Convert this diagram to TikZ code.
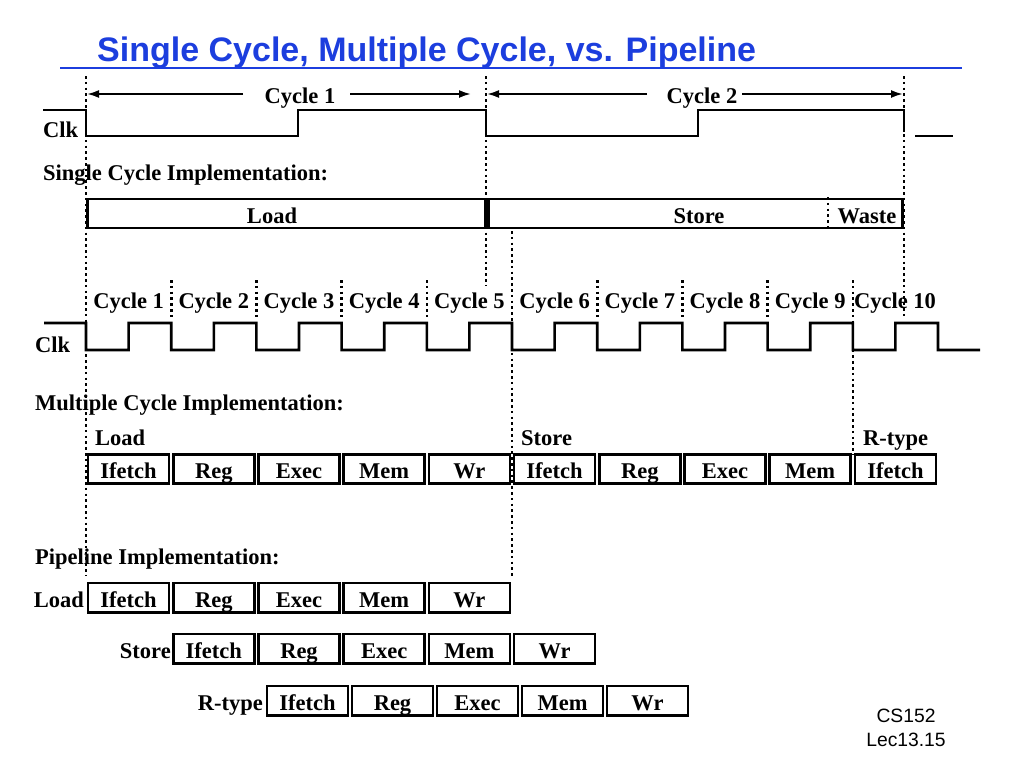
\documentclass[tikz,border=0pt]{standalone}
\usepackage{fontspec}
\setmainfont{Liberation Serif}
\newfontfamily\arialfont{Liberation Sans}
\usetikzlibrary{arrows.meta}
\definecolor{titleblue}{RGB}{28,62,222}
\begin{document}
\begin{tikzpicture}[x=1pt,y=-1pt,
  lbl/.style={font=\fontsize{22.5}{24}\selectfont\bfseries, inner sep=0pt},
  sig/.style={line width=2.6pt, line join=miter, line cap=butt},
  vdot/.style={line width=2.6pt, dash pattern=on 2.6pt off 3.2pt},
  stage/.style={draw, line width=2.6pt, minimum width=81pt, minimum height=29.4pt,
    inner sep=0pt, text height=19pt, text depth=0pt,
    font=\fontsize{22.5}{24}\selectfont\bfseries},
  bigbox/.style={draw, line width=2.6pt, inner sep=0pt},
  span/.style={line width=2pt, -{Latex[length=12pt,width=8pt]}},
]
\useasboundingbox (0,0) rectangle (1024,768);
\fill[white] (0,0) rectangle (1024,768);

% Title
\node[anchor=base west, inner sep=0pt, text=titleblue,
  font=\arialfont\fontsize{34}{36}\selectfont\bfseries] (title) at (97,62)
  {Single Cycle, Multiple Cycle, vs. Pipeline};
\coordinate (ulA) at (60,68);
\coordinate (ulB) at (962,68);
\draw[titleblue, line width=2.6pt] (ulA) -- (ulB);

% Long dotted guides
\coordinate (g1t) at (86,76);   \coordinate (g1b) at (86,575);
\coordinate (g2t) at (486,76);  \coordinate (g2b) at (486,286);
\coordinate (g3t) at (904,76);  \coordinate (g3b) at (904,318);
\coordinate (g4t) at (512,231); \coordinate (g4b) at (512,576);
\coordinate (g5t) at (852.8,280); \coordinate (g5b) at (852.8,455);
\draw[vdot] (g1t) -- (g1b);
\draw[vdot] (g2t) -- (g2b);
\draw[vdot] (g3t) -- (g3b);
\draw[vdot] (g4t) -- (g4b);
\draw[vdot] (g5t) -- (g5b);
\foreach \k in {1,2,3,4,6,7,8} {
  \coordinate (s\k t) at ({86+85.2*\k},280);
  \coordinate (s\k b) at ({86+85.2*\k},318);
  \draw[vdot] (s\k t) -- (s\k b);
}

% Top: cycle arrows
\node[lbl, anchor=base] (cyc1) at (300,103) {Cycle 1};
\node[lbl, anchor=base] (cyc2) at (702,103) {Cycle 2};
\coordinate (a1l) at (87,94);  \coordinate (a1r) at (471,94);
\coordinate (a2l) at (487,94); \coordinate (a2r) at (903,94);
\coordinate (b1l) at (243,94); \coordinate (b1r) at (350,94);
\coordinate (b2l) at (647,94); \coordinate (b2r) at (742,94);
\draw[span] (b1l) -- (a1l);
\draw[span] (b1r) -- (a1r);
\draw[span] (b2l) -- (a2l);
\draw[span] (b2r) -- (a2r);

% Top clock
\node[lbl, anchor=base west] (clk1) at (43,137) {Clk};
\draw[sig] (43,110) -- (86,110) -- (86,136) -- (298,136) -- (298,110) -- (486,110)
  -- (486,136) -- (698,136) -- (698,110) -- (904,110) -- (904,132);
\draw[sig] (915,136) -- (953,136);

% Single cycle implementation
\node[lbl, anchor=base west] (sch) at (43,180) {Single Cycle Implementation:};
\node[bigbox, minimum width=398pt, minimum height=29pt] (sload) at (286.5,213.5) {};
\node[bigbox, minimum width=414pt, minimum height=29pt] (sstore) at (695.5,213.5) {};
\node[lbl, anchor=base] (tload) at (272,223) {Load};
\node[lbl, anchor=base] (tstore) at (699,223) {Store};
\node[lbl, anchor=base] (twaste) at (867,223) {Waste};
\coordinate (wt) at (828,197); \coordinate (wb) at (828,231);
\draw[vdot] (wt) -- (wb);

% Multi cycle clock
\foreach \k in {1,...,9} {
  \node[lbl, anchor=base] (mc\k) at ({86+85.2*(\k-0.5)},308) {Cycle \k};
}
\node[lbl, anchor=base] (mc10) at (895,308) {Cycle 10};
\node[lbl, anchor=base west] (clk2) at (35,352) {Clk};
\draw[sig] (44,323) -- (86,323)
  \foreach \k in {0,...,9} {
    -- ({86+85.2*\k},350) -- ({128.6+85.2*\k},350) -- ({128.6+85.2*\k},323) -- ({171.2+85.2*\k},323)
  } -- (938,350) -- (980,350);

% Multiple cycle implementation
\node[lbl, anchor=base west] (mch) at (35,410) {Multiple Cycle Implementation:};
\node[lbl, anchor=base west] (mload) at (95,445) {Load};
\node[lbl, anchor=base west] (mstore) at (521,445) {Store};
\node[lbl, anchor=base west] (mrtype) at (863,445) {R-type};
\foreach \k/\t in {1/Ifetch,2/Reg,3/Exec,4/Mem,5/Wr,6/Ifetch,7/Reg,8/Exec,9/Mem,10/Ifetch} {
  \node[stage] (m\k) at ({86+85.2*(\k-0.5)},469) {\t};
}

% Pipeline implementation
\node[lbl, anchor=base west] (pih) at (35,564) {Pipeline Implementation:};
\foreach \k/\t in {1/Ifetch,2/Reg,3/Exec,4/Mem,5/Wr} {
  \node[stage] (pl\k) at ({86+85.2*(\k-0.5)},597.5) {\t};
  \node[stage] (ps\k) at ({171.2+85.2*(\k-0.5)},648.5) {\t};
  \node[stage] (pr\k) at ({265+85*(\k-0.5)},700.5) {\t};
}
\node[lbl, anchor=base east] (plload) at (84,607) {Load};
\node[lbl, anchor=base east] (plstore) at (171,658) {Store};
\node[lbl, anchor=base east] (plrtype) at (263,710) {R-type};

% Footer
\node[anchor=base, inner sep=0pt, font=\arialfont\fontsize{19.3}{21}\selectfont] (cs) at (906,722) {CS152};
\node[anchor=base, inner sep=0pt, font=\arialfont\fontsize{19.3}{21}\selectfont] (lec) at (906,746) {Lec13.15};
\end{tikzpicture}
\end{document}
